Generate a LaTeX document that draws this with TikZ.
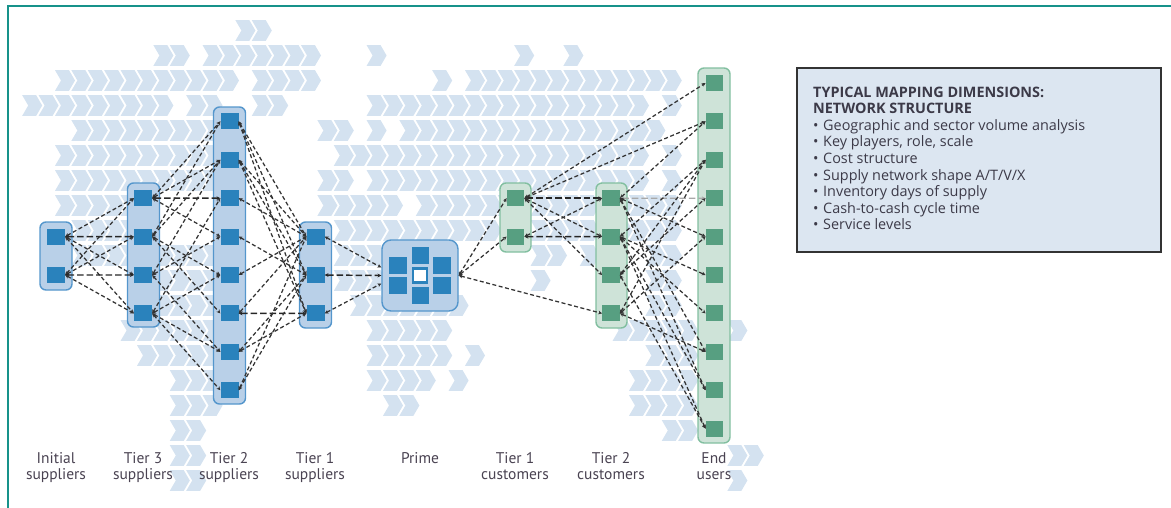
\documentclass[tikz,border=0pt]{standalone}
\usepackage{fontspec}
\setmainfont{PT Sans}
\newfontfamily\panelfont{Open Sans}
\usetikzlibrary{arrows.meta}

\definecolor{frameteal}{HTML}{17928A}
\definecolor{chevfill}{HTML}{D4E2F0}
\definecolor{blueedge}{HTML}{5496CC}
\definecolor{bluefill}{HTML}{B9D0E8}
\definecolor{bluesq}{HTML}{2A82BC}
\definecolor{greenedge}{HTML}{82BFA0}
\definecolor{greenfill}{HTML}{CEE3D8}
\definecolor{greensq}{HTML}{579F81}
\definecolor{linkdark}{HTML}{333333}
\definecolor{linklight}{HTML}{A8A8A8}
\definecolor{boxfill}{HTML}{DCE6F1}
\definecolor{boxedge}{HTML}{333333}
\definecolor{inktext}{HTML}{3C3A48}
\definecolor{labeltext}{HTML}{4A4352}

% one row of background chevrons: #1 = centre y, #2 = list of first/last grid columns
\newcommand\chevrow[2]{%
  \foreach \a/\b in {#2}{\foreach \k in {\a,...,\b}{
    \fill[chevfill] ({22.2+16.4*\k},{#1-10.3}) -- ++(14,0) -- ++(6,10.3) -- ++(-6,10.3) -- ++(-14,0) -- ++(6,-10.3) -- cycle;}}}

\tikzset{
  bcol/.style={draw=blueedge, fill=bluefill, line width=1.4pt, rounded corners=6pt, inner sep=0pt, minimum width=32pt},
  gcol/.style={draw=greenedge, fill=greenfill, line width=1.4pt, rounded corners=6pt, inner sep=0pt, minimum width=31pt},
  bsq/.style={fill=bluesq, inner sep=0pt, minimum width=18pt, minimum height=16pt},
  gsq/.style={fill=greensq, inner sep=0pt, minimum width=17.5pt, minimum height=16pt},
  link/.style={draw=linkdark, line width=1.25pt, dash pattern=on 4pt off 2.5pt, >={Stealth[length=3.8pt,width=3.8pt]}, <->},
  hlink/.style={link, draw=black!85, line width=1.45pt, dash pattern=on 6.5pt off 3pt},
  faintlink/.style={link, draw=linklight, line width=1.4pt, dash pattern=on 6.5pt off 3pt},
  caption/.style={font=\fontsize{15.5}{16}\selectfont, text=labeltext, align=center, inner sep=0pt, anchor=north},
}

\begin{document}
\begin{tikzpicture}[x=1pt, y=-1pt]
\useasboundingbox (0,0) rectangle (1171,507);
\clip (0,0) rectangle (1171,507);

% teal frame
\draw[frameteal, line width=2pt] (8,530) -- (8,6) -- (1200,6);

% background chevrons
\chevrow{30.5}{13/14}
\chevrow{55.5}{8/9,11/17,21/21,30/30,33/33}
\chevrow{80.5}{2/12,14/17,25/25,27/39}
\chevrow{105.5}{0/8,10/11,14/15,21/37,39/39}
\chevrow{130.5}{3/11,18/19,21/21,23/38}
\chevrow{155.5}{2/11,19/37,39/39}
\chevrow{180.5}{2/11,18/19,21/37,39/39}
\chevrow{205.5}{2/6,18/22,24/39}
\chevrow{230.5}{3/6,19/28,31/39}
\chevrow{255.5}{3/6,8/11,19/21,31/32,34/34,38/39}
\chevrow{280.5}{8/11,19/21,31/31,38/39}
\chevrow{305.5}{8/11,20/26,38/39}
\chevrow{330.5}{6/11,21/25,36/40,43/43}
\chevrow{355.5}{7/11,21/25,27/27,38/40}
\chevrow{380.5}{9/11,21/24,26/26,37/40}
\chevrow{405.5}{9/11,22/23,37/40}
\chevrow{430.5}{9/10,39/40}
\chevrow{455.5}{9/10,43/44}
\chevrow{480.5}{9/10,43/43}

% column containers
\node[bcol, minimum height=68pt]  (colini) at (56,256) {};
\node[bcol, minimum height=144pt] (coltr3) at (143.5,255) {};
\node[bcol, minimum height=297pt] (coltr2) at (229.5,255.5) {};
\node[bcol, minimum height=106pt] (coltr1) at (315.5,275) {};
\node[bcol, minimum width=76pt, minimum height=71pt, rounded corners=9pt] (prime) at (420,275.5) {};
\node[gcol, minimum height=69pt]  (colcu1) at (515.5,217.5) {};
\node[gcol, minimum height=145pt] (colcu2) at (611.5,255.5) {};
\node[gcol, minimum width=32pt, minimum height=375pt] (coleu) at (714,255.5) {};

% member squares
\node[bsq] (ini1) at (56,236.6) {};
\node[bsq] (ini2) at (56,275) {};
\foreach \i/\n in {1/a,2/b,3/c,4/d} \node[bsq] (tr3\n) at (143,{159.8+38.4*\i}) {};
\foreach \i/\n in {1/a,2/b,3/c,4/d,5/e,6/f,7/g,8/h} \node[bsq] (tr2\n) at (229.5,{83+38.4*\i}) {};
\foreach \i/\n in {1/a,2/b,3/c} \node[bsq] (tr1\n) at (315.5,{198.2+38.4*\i}) {};
\node[gsq] (cu1a) at (515.5,198.2) {};
\node[gsq] (cu1b) at (515.5,236.6) {};
\foreach \i/\n in {1/a,2/b,3/c,4/d} \node[gsq] (cu2\n) at (611,{159.8+38.4*\i}) {};
\foreach \i in {1,...,10} \node[gsq] (eu\i) at (714.5,{83+38.4*(\i-1)}) {};

% the prime cluster
\node[bsq, minimum width=17pt, minimum height=17pt] (pr-top) at (420,255.5) {};
\node[bsq, minimum width=17pt, minimum height=17pt] (pr-bot) at (420,295.3) {};
\node[bsq, minimum height=17pt] (pr-lt) at (398.3,265) {};
\node[bsq, minimum height=17pt] (pr-lb) at (398.3,285.5) {};
\node[bsq, minimum height=17pt] (pr-rt) at (442,265) {};
\node[bsq, minimum height=17pt] (pr-rb) at (442,285.5) {};
\node[draw=bluesq, fill=white, line width=2.5pt, inner sep=0pt, minimum size=14pt] (pr-core) at (420,275.3) {};

% initial suppliers -- tier 3
\draw[link]  (ini1.east) -- (tr3a.west);
\draw[hlink] (ini1.east) -- (tr3b.west);
\draw[link]  (ini1.east) -- (tr3c.west);
\draw[link]  (ini1.east) -- (tr3d.west);
\draw[link]  (ini2.east) -- (tr3a.west);
\draw[link]  (ini2.east) -- (tr3b.west);
\draw[hlink] (ini2.east) -- (tr3c.west);
\draw[link]  (ini2.east) -- (tr3d.west);

% tier 3 -- tier 2
\draw[link]  (tr3a.east) -- (tr2a.west);
\draw[link]  (tr3a.east) -- (tr2b.west);
\draw[hlink] (tr3a.east) -- (tr2c.west);
\draw[link]  (tr3a.east) -- (tr2d.west);
\draw[link]  (tr3b.east) -- (tr2a.west);
\draw[link]  (tr3b.east) -- (tr2b.west);
\draw[link]  (tr3b.east) -- (tr2e.west);
\draw[link]  (tr3b.east) -- (tr2f.west);
\draw[link]  (tr3c.east) -- (tr2b.west);
\draw[link]  (tr3c.east) -- (tr2d.west);
\draw[link]  (tr3c.east) -- (tr2g.west);
\draw[link]  (tr3d.east) -- (tr2c.west);
\draw[link]  (tr3d.east) -- (tr2e.west);
\draw[link]  (tr3d.east) -- (tr2g.west);
\draw[link]  (tr3d.east) -- (tr2h.west);

% tier 2 -- tier 1
\draw[link]  (tr2a.east) -- (tr1a.west);
\draw[link]  (tr2a.east) -- (tr1b.west);
\draw[link]  (tr2a.east) -- (tr1c.west);
\draw[link]  (tr2b.east) -- (tr1a.west);
\draw[link]  (tr2b.east) -- (tr1b.west);
\draw[link]  (tr2b.east) -- (tr1c.west);
\draw[link]  (tr2c.east) -- (tr1a.west);
\draw[link]  (tr2d.east) -- (tr1b.west);
\draw[link]  (tr2e.east) -- (tr1a.west);
\draw[hlink] (tr2f.east) -- (tr1c.west);
\draw[link]  (tr2f.east) -- (tr1a.west);
\draw[link]  (tr2g.east) -- (tr1b.west);
\draw[link]  (tr2g.east) -- (tr1c.west);
\draw[link]  (tr2h.east) -- (tr1a.west);
\draw[link]  (tr2h.east) -- (tr1b.west);

% tier 1 -- prime
\draw[link]  (tr1a.east) -- ([yshift=8pt]prime.west);
\draw[hlink] (tr1b.east) -- (prime.west);
\draw[link]  (tr1c.east) -- ([yshift=-8pt]prime.west);

% prime -- customers
\draw[link]  (prime.east) -- (cu1a.west);
\draw[link]  (prime.east) -- (cu1b.west);
\draw[link]  (prime.east) -- (cu2d.west);

% tier 1 customers -- tier 2 customers
\draw[hlink] (cu1a.east) -- (cu2a.west);
\draw[hlink] (cu1b.east) -- (cu2b.west);
\draw[link]  (cu1a.east) -- (cu2b.west);
\draw[link]  (cu1a.east) -- (cu2c.west);
\draw[link]  (cu1b.east) -- (cu2a.west);

% customers -- end users
\draw[link]  (cu1a.east) -- (eu1.west);
\draw[link]  (cu1a.east) -- (eu2.west);
\draw[link]  (cu2a.east) -- (eu2.west);
\draw[faintlink] (cu2a.east) -- (eu4.west);
\draw[link]  (cu2a.east) -- (eu5.west);
\draw[link]  (cu2a.east) -- (eu8.west);
\draw[link]  (cu2a.east) -- (eu9.west);
\draw[link]  (cu2b.east) -- (eu3.west);
\draw[link]  (cu2b.east) -- (eu6.west);
\draw[link]  (cu2b.east) -- (eu7.west);
\draw[link]  (cu2b.east) -- (eu9.west);
\draw[link]  (cu2b.east) -- (eu10.west);
\draw[link]  (cu2c.east) -- (eu3.west);
\draw[link]  (cu2c.east) -- (eu4.west);
\draw[link]  (cu2c.east) -- (eu10.west);
\draw[link]  (cu2d.east) -- (eu3.west);
\draw[link]  (cu2d.east) -- (eu5.west);
\draw[link]  (cu2d.east) -- (eu8.west);

% column captions
\node[caption] (cap-ini) at (56,452.5)  {Initial\\suppliers};
\node[caption] (cap-tr3) at (143,452.5) {Tier 3\\suppliers};
\node[caption] (cap-tr2) at (229,452.5) {Tier 2\\suppliers};
\node[caption] (cap-tr1) at (315,452.5) {Tier 1\\suppliers};
\node[caption] (cap-prime) at (420,452.5) {Prime};
\node[caption] (cap-cu1) at (515,452.5) {Tier 1\\customers};
\node[caption] (cap-cu2) at (611,452.5) {Tier 2\\customers};
\node[caption] (cap-eu) at (714,452.5) {End\\users};

% mapping dimensions panel
\node[draw=boxedge, fill=boxfill, line width=1.4pt, minimum width=364pt, minimum height=184pt, inner sep=0pt] (dimbox) at (979,160) {};
\node[anchor=north west, inner sep=0pt, align=left, text=inktext,
      font=\panelfont\fontsize{14.4}{16.6}\selectfont] (dimtext) at (813,86.5)
  {\textbf{TYPICAL MAPPING DIMENSIONS:}\\
   \textbf{NETWORK STRUCTURE}\\
   \makebox[10pt][l]{•}Geographic and sector volume analysis\\
   \makebox[10pt][l]{•}Key players, role, scale\\
   \makebox[10pt][l]{•}Cost structure\\
   \makebox[10pt][l]{•}Supply network shape A/T/V/X\\
   \makebox[10pt][l]{•}Inventory days of supply\\
   \makebox[10pt][l]{•}Cash-to-cash cycle time\\
   \makebox[10pt][l]{•}Service levels};
\end{tikzpicture}
\end{document}
